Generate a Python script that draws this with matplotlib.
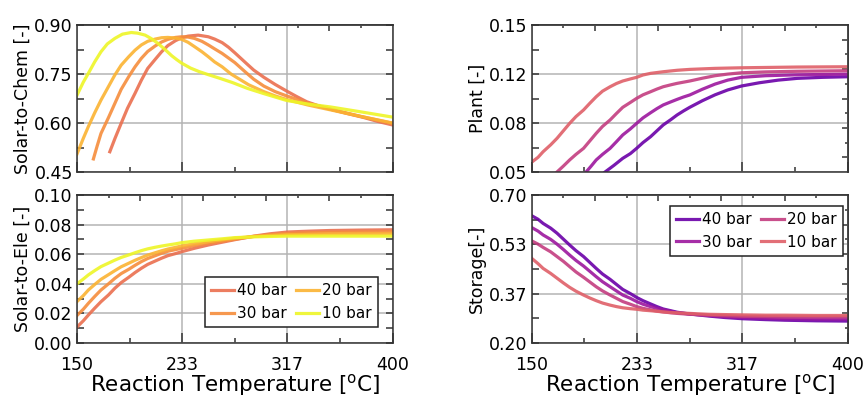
import numpy as np
import matplotlib.pyplot as plt

# ---------------------------------------------------------------
# data
labels = ["40 bar", "30 bar", "20 bar", "10 bar"]
col_warm = ["#ea6f4f", "#f68d3c", "#fbb332", "#eef527"]
col_cool = ["#6a00a8", "#9c179e", "#c33d80", "#df5f68"]

# Solar-to-Chem
chem_T40 = [176, 180, 185, 190, 196, 201, 206, 212, 217, 222, 228, 233, 238, 246, 254, 259, 265, 270, 275,
            284, 290, 298, 307, 316, 324, 332, 341, 351, 364, 377, 388, 400]
chem_40  = [0.512, 0.552, 0.599, 0.645, 0.691, 0.731, 0.767, 0.795, 0.818, 0.837, 0.852, 0.861, 0.866, 0.869,
            0.864, 0.857, 0.846, 0.832, 0.815, 0.783, 0.762, 0.740, 0.718, 0.698, 0.681, 0.665, 0.653, 0.642,
            0.629, 0.617, 0.605, 0.594]
chem_T30 = [163, 166, 169, 175, 180, 185, 191, 196, 201, 206, 212, 217, 222, 228, 233, 238, 243, 249, 254,
            259, 265, 270, 275, 284, 290, 298, 307, 316, 333, 351, 375, 400]
chem_30  = [0.490, 0.530, 0.568, 0.617, 0.660, 0.703, 0.742, 0.772, 0.798, 0.819, 0.836, 0.848, 0.856, 0.862,
            0.864, 0.863, 0.859, 0.850, 0.839, 0.827, 0.813, 0.799, 0.785, 0.754, 0.734, 0.713, 0.696, 0.683,
            0.661, 0.642, 0.620, 0.599]
chem_T20 = [150, 155, 159, 164, 169, 175, 180, 185, 191, 196, 201, 206, 212, 217, 222, 228, 233, 238, 243,
            249, 254, 259, 265, 272, 286, 298, 307, 316, 333, 351, 375, 400]
chem_20  = [0.505, 0.553, 0.589, 0.631, 0.670, 0.712, 0.747, 0.777, 0.803, 0.823, 0.839, 0.850, 0.857, 0.861,
            0.862, 0.860, 0.856, 0.847, 0.834, 0.818, 0.803, 0.787, 0.772, 0.750, 0.717, 0.696, 0.683, 0.672,
            0.655, 0.640, 0.620, 0.600]
chem_T10 = [150, 155, 159, 164, 169, 174, 180, 186, 193, 198, 204, 209, 214, 220, 225, 229, 233, 240, 247,
            254, 263, 273, 285, 298, 316, 333, 351, 375, 400]
chem_10  = [0.685, 0.725, 0.752, 0.787, 0.818, 0.842, 0.859, 0.872, 0.877, 0.875, 0.869, 0.858, 0.844, 0.824,
            0.806, 0.794, 0.783, 0.768, 0.757, 0.748, 0.737, 0.724, 0.706, 0.690, 0.669, 0.658, 0.649, 0.634,
            0.618]

# Solar-to-Ele (common temperature grid)
ele_T  = [150, 155, 159, 164, 169, 175, 180, 185, 191, 196, 201, 206, 212, 217, 222, 228, 233, 243, 254,
          265, 275, 290, 303, 317, 335, 350, 375, 400]
ele_40 = [0.0108, 0.0150, 0.0189, 0.0235, 0.0279, 0.0325, 0.0370, 0.0408, 0.0444, 0.0476, 0.0505, 0.0531,
          0.0554, 0.0573, 0.0590, 0.0604, 0.0617, 0.0640, 0.0662, 0.0681, 0.0698, 0.0722, 0.0738, 0.0750,
          0.0756, 0.0760, 0.0763, 0.0765]
ele_30 = [0.0186, 0.0228, 0.0268, 0.0314, 0.0358, 0.0400, 0.0437, 0.0469, 0.0498, 0.0525, 0.0550, 0.0571,
          0.0590, 0.0606, 0.0620, 0.0631, 0.0640, 0.0658, 0.0674, 0.0688, 0.0701, 0.0720, 0.0732, 0.0740,
          0.0745, 0.0748, 0.0750, 0.0752]
ele_20 = [0.0280, 0.0320, 0.0358, 0.0395, 0.0430, 0.0462, 0.0489, 0.0515, 0.0539, 0.0559, 0.0577, 0.0594,
          0.0610, 0.0623, 0.0635, 0.0646, 0.0656, 0.0671, 0.0685, 0.0697, 0.0708, 0.0720, 0.0727, 0.0732,
          0.0734, 0.0736, 0.0737, 0.0738]
ele_10 = [0.0400, 0.0432, 0.0460, 0.0489, 0.0516, 0.0540, 0.0560, 0.0578, 0.0595, 0.0610, 0.0624, 0.0636,
          0.0647, 0.0655, 0.0662, 0.0670, 0.0678, 0.0688, 0.0696, 0.0704, 0.0712, 0.0717, 0.0720, 0.0722,
          0.0722, 0.0722, 0.0722, 0.0722]

# Plant
plant_T40 = [208, 215, 222, 228, 233, 238, 244, 249, 254, 260, 265, 270, 275, 285, 295, 305, 316, 330, 345,
             360, 380, 400]
plant_40  = [0.0500, 0.0545, 0.0593, 0.0625, 0.0661, 0.0700, 0.0740, 0.0780, 0.0820, 0.0856, 0.0888, 0.0915,
             0.0940, 0.0985, 0.1025, 0.1058, 0.1085, 0.1107, 0.1125, 0.1137, 0.1144, 0.1148]
plant_T30 = [193, 197, 201, 206, 212, 217, 222, 228, 233, 238, 244, 249, 254, 260, 265, 270, 275, 285, 295,
             305, 316, 335, 360, 400]
plant_30  = [0.0500, 0.0540, 0.0582, 0.0620, 0.0661, 0.0706, 0.0752, 0.0793, 0.0831, 0.0868, 0.0903, 0.0931,
             0.0956, 0.0977, 0.0994, 0.1010, 0.1024, 0.1063, 0.1098, 0.1125, 0.1144, 0.1155, 0.1161, 0.1166]
plant_T20 = [170, 175, 180, 185, 191, 196, 201, 206, 212, 217, 222, 228, 233, 238, 244, 249, 254, 260, 265,
             275, 285, 295, 305, 316, 335, 360, 400]
plant_20  = [0.0500, 0.0540, 0.0582, 0.0620, 0.0661, 0.0712, 0.0763, 0.0810, 0.0854, 0.0898, 0.0940, 0.0973,
             0.1001, 0.1025, 0.1046, 0.1064, 0.1080, 0.1093, 0.1103, 0.1119, 0.1138, 0.1155, 0.1166, 0.1175,
             0.1181, 0.1185, 0.1189]
plant_T10 = [150, 155, 159, 165, 170, 175, 180, 185, 191, 196, 201, 206, 212, 217, 222, 228, 233, 238, 244,
             254, 265, 275, 295, 316, 360, 400]
plant_10  = [0.0567, 0.0600, 0.0638, 0.0685, 0.0729, 0.0780, 0.0831, 0.0877, 0.0922, 0.0968, 0.1012, 0.1050,
             0.1080, 0.1102, 0.1119, 0.1133, 0.1144, 0.1160, 0.1171, 0.1182, 0.1192, 0.1198, 0.1205, 0.1209,
             0.1214, 0.1216]

# Storage (common temperature grid)
sto_T  = [150, 155, 159, 165, 170, 175, 180, 185, 191, 196, 201, 206, 212, 217, 222, 228, 233, 238, 244,
          249, 254, 260, 265, 275, 290, 303, 317, 335, 350, 375, 400]
sto_40 = [0.630, 0.618, 0.604, 0.588, 0.571, 0.551, 0.531, 0.512, 0.492, 0.472, 0.452, 0.433, 0.415, 0.398,
          0.381, 0.367, 0.354, 0.343, 0.332, 0.323, 0.315, 0.309, 0.304, 0.298, 0.291, 0.286, 0.282, 0.279,
          0.277, 0.275, 0.274]
sto_30 = [0.590, 0.578, 0.565, 0.550, 0.534, 0.516, 0.497, 0.479, 0.460, 0.442, 0.424, 0.407, 0.390, 0.376,
          0.362, 0.351, 0.340, 0.331, 0.323, 0.317, 0.312, 0.307, 0.302, 0.298, 0.293, 0.289, 0.286, 0.284,
          0.282, 0.281, 0.281]
sto_20 = [0.545, 0.534, 0.523, 0.508, 0.492, 0.476, 0.458, 0.440, 0.422, 0.406, 0.390, 0.376, 0.362, 0.351,
          0.340, 0.331, 0.323, 0.317, 0.312, 0.308, 0.305, 0.302, 0.300, 0.297, 0.294, 0.292, 0.290, 0.289,
          0.288, 0.288, 0.288]
sto_10 = [0.486, 0.468, 0.452, 0.435, 0.419, 0.403, 0.388, 0.375, 0.362, 0.352, 0.343, 0.335, 0.328, 0.323,
          0.319, 0.316, 0.314, 0.311, 0.309, 0.307, 0.305, 0.303, 0.302, 0.300, 0.297, 0.296, 0.295, 0.294,
          0.294, 0.293, 0.293]

xticks = [150, 233.33, 316.67, 400]
xticklabels = ["150", "233", "317", "400"]

#======================================================================
plt.rcParams['font.family'] = 'DejaVu Sans'
plt.rcParams['font.size'] = 12
plt.rcParams['axes.linewidth'] = 1.1
plt.rcParams['axes.edgecolor'] = '#333333'

fig = plt.figure(figsize=(8.67, 4.0), dpi=100)
ax_chem  = fig.add_axes([0.0888, 0.570, 0.364, 0.3675])
ax_ele   = fig.add_axes([0.0888, 0.1425, 0.364, 0.370])
ax_plant = fig.add_axes([0.6133, 0.570, 0.3645, 0.3675])
ax_sto   = fig.add_axes([0.6133, 0.1425, 0.3645, 0.370])


def style_axes(ax, ylo, yhi, ystep, right_ticks=None):
    ax.set_xlim(150, 400)
    ax.set_ylim(ylo, yhi)
    ax.set_xticks(xticks)
    ax.set_xticks([191.67, 275, 358.33], minor=True)
    yt = np.arange(ylo, yhi + ystep/2, ystep)
    ax.set_yticks(yt)
    ax.set_yticks(yt[:-1] + ystep/2, minor=True)
    ax.yaxis.set_major_formatter(plt.FormatStrFormatter('%.2f'))
    ax.grid(True, which='major', color='#b4b4b4', lw=1.1)
    ax.set_axisbelow(True)
    ax.tick_params(axis='x', which='major', direction='in', length=7, width=1.1, color='#333333', pad=9)
    ax.tick_params(axis='x', which='minor', direction='in', length=3.5, width=1.1, color='#333333')
    ax.tick_params(axis='y', which='both', direction='in', length=5, width=1.1, color='#333333',
                   right=(right_ticks is None))
    ax.tick_params(axis='y', which='major', pad=3)
    ax.tick_params(axis='both', labelsize=12.5)
    # top axis with its own ticks
    sx = ax.secondary_xaxis('top')
    sx.set_xticks([200, 250, 300, 350])
    sx.set_xticks([175, 225, 275, 325, 375], minor=True)
    sx.tick_params(which='major', direction='in', length=4, width=1.1, labeltop=False, color='#333333')
    sx.tick_params(which='minor', direction='in', length=2.5, width=1.1, color='#333333')
    if right_ticks is not None:
        sy = ax.secondary_yaxis('right')
        sy.set_yticks(right_ticks[0])
        sy.set_yticks(right_ticks[1], minor=True)
        sy.tick_params(which='major', direction='in', length=4, width=1.1, labelright=False, color='#333333')
        sy.tick_params(which='minor', direction='in', length=2.5, width=1.1, color='#333333')


style_axes(ax_chem, 0.45, 0.90, 0.15)
style_axes(ax_ele, 0.0, 0.10, 0.02)
style_axes(ax_plant, 0.05, 0.15, 0.1/3, right_ticks=([0.06, 0.08, 0.10, 0.12, 0.14], [0.07, 0.09, 0.11, 0.13]))
style_axes(ax_sto, 0.20, 0.70, 0.5/3, right_ticks=([0.3, 0.4, 0.5, 0.6], [0.25, 0.35, 0.45, 0.55, 0.65]))
ax_ele.set_yticks(np.arange(0.01, 0.1, 0.02), minor=True)

lw = 2.3
chem = [(chem_T40, chem_40), (chem_T30, chem_30), (chem_T20, chem_20), (chem_T10, chem_10)]
for (t, v), c, lb in zip(chem, col_warm, labels):
    ax_chem.plot(t, v, color=c, lw=lw, alpha=0.9, label=lb, solid_joinstyle='round')

for v, c, lb in zip([ele_40, ele_30, ele_20, ele_10], col_warm, labels):
    ax_ele.plot(ele_T, v, color=c, lw=lw, alpha=0.9, label=lb, solid_joinstyle='round')

plant = [(plant_T40, plant_40), (plant_T30, plant_30), (plant_T20, plant_20), (plant_T10, plant_10)]
for (t, v), c, lb in zip(plant, col_cool, labels):
    ax_plant.plot(t, v, color=c, lw=lw, alpha=0.9, label=lb, solid_joinstyle='round')

for v, c, lb in zip([sto_40, sto_30, sto_20, sto_10], col_cool, labels):
    ax_sto.plot(sto_T, v, color=c, lw=lw, alpha=0.9, label=lb, solid_joinstyle='round')

for ax in [ax_chem, ax_plant]:
    ax.tick_params(labelbottom=False)
for ax in [ax_ele, ax_sto]:
    ax.set_xticklabels(xticklabels)
    ax.set_xlabel("Reaction Temperature [$\\mathregular{^{o}}$C]", fontsize=15.5, labelpad=-1)

ax_chem.set_ylabel("Solar-to-Chem [-]", fontsize=12.5, labelpad=2)
ax_ele.set_ylabel("Solar-to-Ele [-]", fontsize=12.5, labelpad=2)
ax_plant.set_ylabel("Plant [-]", fontsize=12.5, labelpad=2)
ax_sto.set_ylabel("Storage[-]", fontsize=12.5, labelpad=2)

leg_kw = dict(ncol=2, fontsize=11, handlelength=1.5, handletextpad=0.2,
              columnspacing=0.6, borderaxespad=0, fancybox=False, framealpha=1,
              edgecolor='#222222')
l1 = ax_ele.legend(loc='lower right', bbox_to_anchor=(0.954, 0.108), **leg_kw)
l2 = ax_sto.legend(loc='upper right', bbox_to_anchor=(0.985, 0.926), **leg_kw)
for l in (l1, l2):
    l.get_frame().set_linewidth(1.1)

plt.savefig("out.png", dpi=100)
plt.close()
